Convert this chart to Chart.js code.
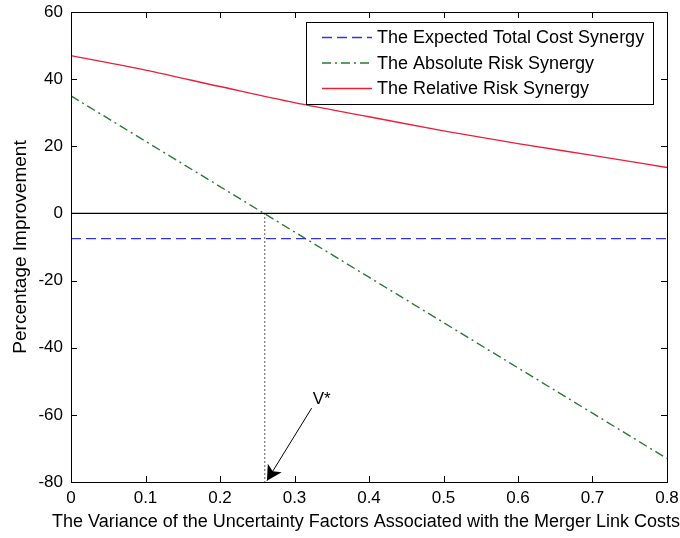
<!DOCTYPE html>
<html lang="en">
<head>
    <meta charset="UTF-8">
    <script src="https://cdn.jsdelivr.net/npm/chart.js"></script>
    <title>Synergy vs Variance</title>
    <style>
        html, body { margin: 0; padding: 0; background: #fff; }
        #wrap { width: 680px; height: 538px; }
    </style>
</head>
<body>
    <div id="wrap"><canvas id="synergyChart" width="680" height="538"></canvas></div>

    <script>
        // values
        const variance = [0, 0.1, 0.2, 0.3, 0.4, 0.5, 0.6, 0.7, 0.8];
        const expectedCost = [-7.5, -7.5, -7.5, -7.5, -7.5, -7.5, -7.5, -7.5, -7.5];
        const absoluteRisk = [35, 21.5, 8, -5.5, -19, -32.5, -46, -59.5, -73];
        const relativeRisk = [47, 42.7, 37.8, 33, 28.8, 24.6, 20.8, 17.3, 13.7];
        const seriesNames = ['The Expected Total Cost Synergy', 'The Absolute Risk Synergy', 'The Relative Risk Synergy'];
        const seriesColors = ['#3434d8', '#2c7a36', '#e8213a'];
        const seriesDashes = [[10, 5], [9, 4, 2, 4], []];
        const xTicks = [0, 0.1, 0.2, 0.3, 0.4, 0.5, 0.6, 0.7, 0.8];
        const yTicks = [-80, -60, -40, -20, 0, 20, 40, 60];
        const xTitle = 'The Variance of the Uncertainty Factors Associated with the Merger Link Costs';
        const yTitle = 'Percentage Improvement';
        const vStar = 0.26;
        const vStarLabel = 'V*';
        const arrowFrom = [0.323, -58];   // tail of the arrow near the label
        const arrowTo = [0.263, -79.6];

        const FONT = '"Liberation Sans", Arial, Helvetica, sans-serif';
        const pts = ys => variance.map((x, i) => ({ x: x, y: ys[i] }));

        // legend, frame and inward ticks like matlab draws them
        const matlabBox = {
            id: 'matlabBox',
            afterDraw(chart) {
                const ctx = chart.ctx;
                const a = chart.chartArea;
                const xs = chart.scales.x, ys = chart.scales.y;
                ctx.save();
                ctx.strokeStyle = '#000';
                ctx.lineWidth = 1;
                ctx.strokeRect(Math.round(a.left) + 0.5, Math.round(a.top) + 0.5, Math.round(a.right - a.left), Math.round(a.bottom - a.top));
                ctx.beginPath();
                xTicks.forEach(v => {
                    const p = Math.round(xs.getPixelForValue(v)) + 0.5;
                    ctx.moveTo(p, a.bottom); ctx.lineTo(p, a.bottom - 6);
                    ctx.moveTo(p, a.top); ctx.lineTo(p, a.top + 6);
                });
                yTicks.forEach(v => {
                    const p = Math.round(ys.getPixelForValue(v)) + 0.5;
                    ctx.moveTo(a.left, p); ctx.lineTo(a.left + 6, p);
                    ctx.moveTo(a.right, p); ctx.lineTo(a.right - 6, p);
                });
                ctx.stroke();

                // x title, drawn here so it is not squeezed to the axis width
                ctx.fillStyle = '#000';
                ctx.font = '18px ' + FONT;
                ctx.textAlign = 'center';
                ctx.textBaseline = 'middle';
                ctx.fillText(xTitle, (a.left + a.right) / 2 - 3, a.bottom + 40);
                ctx.textAlign = 'left';

                // arrow to V*
                const x1 = xs.getPixelForValue(arrowFrom[0]), y1 = ys.getPixelForValue(arrowFrom[1]);
                const x2 = xs.getPixelForValue(arrowTo[0]), y2 = ys.getPixelForValue(arrowTo[1]);
                ctx.beginPath();
                ctx.moveTo(x1, y1); ctx.lineTo(x2, y2);
                ctx.stroke();
                const ang = Math.atan2(y2 - y1, x2 - x1);
                const len = 17, spread = 0.5;
                ctx.beginPath();
                ctx.moveTo(x2, y2);
                ctx.lineTo(x2 - len * Math.cos(ang - spread), y2 - len * Math.sin(ang - spread));
                ctx.lineTo(x2 - len * 0.65 * Math.cos(ang), y2 - len * 0.65 * Math.sin(ang));
                ctx.lineTo(x2 - len * Math.cos(ang + spread), y2 - len * Math.sin(ang + spread));
                ctx.closePath();
                ctx.fill();
                ctx.font = '17px ' + FONT;
                ctx.textBaseline = 'alphabetic';
                ctx.fillText(vStarLabel, x1 + 1, y1 - 4);

                // legend box
                const lx = 306, ly = 22, lw = 347, lh = 82;
                ctx.fillStyle = '#fff';
                ctx.fillRect(lx, ly, lw, lh);
                ctx.strokeRect(lx + 0.5, ly + 0.5, lw, lh);
                ctx.font = '18px ' + FONT;
                ctx.textBaseline = 'middle';
                seriesNames.forEach((name, i) => {
                    const ry = ly + 15.5 + i * 25.5;
                    ctx.beginPath();
                    ctx.lineWidth = 1.4;
                    ctx.strokeStyle = seriesColors[i];
                    ctx.setLineDash(seriesDashes[i]);
                    ctx.moveTo(322, ry);
                    ctx.lineTo(372, ry);
                    ctx.stroke();
                    ctx.setLineDash([]);
                    ctx.fillStyle = '#000';
                    ctx.fillText(name, 377, ry + 1);
                });
                ctx.restore();
            }
        };

        const seriesData = [expectedCost, absoluteRisk, relativeRisk];

        new Chart(document.getElementById('synergyChart'), {
            type: 'line',
            data: {
                datasets: seriesData.map((vals, i) => ({
                    label: seriesNames[i], data: pts(vals), borderColor: seriesColors[i], borderDash: seriesDashes[i], borderWidth: 1.4, cubicInterpolationMode: 'monotone'
                })).concat([
                    { label: 'zero', data: [{ x: variance[0], y: 0 }, { x: variance[variance.length - 1], y: 0 }], borderColor: '#000', borderWidth: 1.2 },
                    { label: 'vstar', data: [{ x: vStar, y: 0 }, { x: vStar, y: yTicks[0] }], borderColor: '#000', borderDash: [1, 3], borderWidth: 1.3 }
                ]).map(ds => Object.assign({ pointRadius: 0, fill: false }, ds))
            },
            options: {
                responsive: false,
                animation: false,
                layout: { padding: { top: 12, right: 13, left: 0, bottom: 0 } },
                plugins: { legend: { display: false }, tooltip: { enabled: false } },
                scales: {
                    x: {
                        type: 'linear',
                        min: 0, max: 0.8,
                        afterBuildTicks: s => { s.ticks = xTicks.map(v => ({ value: v })); },
                        afterFit: s => { s.height = 56; s.paddingLeft = 0; s.paddingRight = 0; },
                        grid: { display: false, drawTicks: false },
                        border: { display: false },
                        ticks: { color: '#000', padding: 6, font: { family: FONT, size: 17 }, maxRotation: 0, callback: v => String(v) },
                        title: { display: false }
                    },
                    y: {
                        min: -80, max: 60,
                        afterBuildTicks: s => { s.ticks = yTicks.map(v => ({ value: v })); },
                        afterFit: s => { s.width = 71; s.paddingTop = 0; s.paddingBottom = 0; },
                        grid: { display: false, drawTicks: false },
                        border: { display: false },
                        ticks: { color: '#000', padding: 8, font: { family: FONT, size: 17 } },
                        title: { display: true, text: yTitle, color: '#000', font: { family: FONT, size: 19 }, padding: { top: 9, bottom: 0 } }
                    }
                }
            },
            plugins: [matlabBox]
        });
    </script>
</body>
</html>
